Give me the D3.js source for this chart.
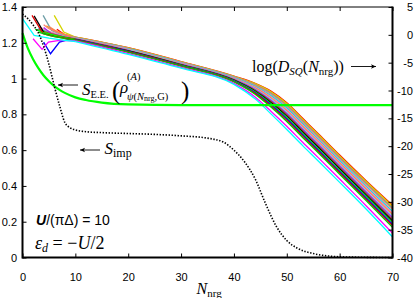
<!DOCTYPE html>
<html>
<head>
<meta charset="utf-8">
<script src="https://cdn.jsdelivr.net/npm/d3@7"></script>
<style>
body{margin:0;background:#fff;}
svg text{font-family:"Liberation Sans",Arial,sans-serif;}
svg .math{font-family:"Liberation Serif","Times New Roman",serif;}
</style>
</head>
<body>
<div id="chart"></div>
<script>
// x ticks and axis ticks
var xTicks = [0,10,20,30,40,50,60,70];
var leftTicks = [0,0.2,0.4,0.6,0.8,1,1.2,1.4];
var rightTicks = [5,0,-5,-10,-15,-20,-25,-30,-35,-40];

// S_imp (dotted, left axis)
var simpN = [0,1,2,3,4,5,6,7,8,9,10,12,15,20,25,30,35,38,40,42,44,46,48,50,52,55,58,60,65,70];
var simpV = [1.36,1.335,1.30,1.255,1.18,1.08,0.96,0.85,0.755,0.725,0.713,0.703,0.698,0.693,0.688,0.68,0.667,0.645,0.60,0.535,0.44,0.30,0.175,0.095,0.052,0.022,0.008,0.004,0.001,0.0];

// S_E.E. (green, left axis)
var seeN = [0,1,2,3,4,5,6,7,8,10,12,15,20,30,70];
var seeV = [1.254,1.17,1.108,1.058,1.017,0.985,0.958,0.937,0.92,0.895,0.88,0.866,0.856,0.852,0.852];

// log D_SQ lines (right axis)
var logDColors = ["#ff0000","#d4d400","#ffa500","#6f9fa8","#fa8072","#00e5ee","#ff82ab","#ff7f50","#87ceeb","#a020f0","#a0522d","#000000","#00ff00","#0000ff","#e00000","#00c800","#ff00ff","#00ffff"];
var logDHeadN = [[6.5,8],[6,7.8],[4.5,6,8],[3.9,5.5,7],[4,5,7],[3,5,8],[3,5,8],[5,6.5,8],[2.5,5,8],[4,5.5,7.5],[3,5,8],[2.2,4.1,6,8],[2.4,4,7],[4,5.3,7,8.5],[1.8,3.9,6,8],[3,5,8],[2,3.7,4.9,7],[0,2.2,5,8]];
var logDHeadV = [[1.0,0.0],[3.5,0.5],[1.6,0.8,0.1],[3.5,0.8,0.2],[1.8,1.1,0.3],[1.2,0.5,-0.2],[1.5,0.6,-0.3],[1.5,0.6,0.0],[1.0,0.2,-0.4],[1.3,0.2,-0.3],[1.0,0.3,-0.4],[3.4,0.3,-0.2,-0.5],[1.0,0.4,-0.3],[-1.3,-3.4,-1.3,-0.9],[3.5,0.2,-0.3,-0.6],[0.5,-0.1,-0.7],[-0.7,-2.6,-1.3,-1.0],[2.9,-0.1,-0.6,-1.0]];
var nGrid = [10,20,30,40,44,47,50,53,56,60,65,70];
var logDTailV = [
  [-0.4,-2.3,-4.8,-7.4,-8.7,-10.1,-12.2,-15.0,-17.8,-21.6,-26.2,-30.6],
  [-0.42,-2.34,-4.84,-7.45,-8.78,-10.22,-12.34,-15.15,-17.95,-21.75,-26.35,-30.77],
  [-0.46,-2.38,-4.88,-7.51,-8.9,-10.39,-12.54,-15.34,-18.14,-21.94,-26.56,-31.0],
  [-0.48,-2.42,-4.92,-7.55,-8.98,-10.51,-12.68,-15.49,-18.29,-22.09,-26.71,-31.17],
  [-0.51,-2.47,-4.97,-7.61,-9.09,-10.67,-12.87,-15.69,-18.49,-22.29,-26.91,-31.4],
  [-0.56,-2.54,-5.04,-7.7,-9.26,-10.92,-13.16,-15.98,-18.78,-22.58,-27.22,-31.74],
  [-0.6,-2.6,-5.1,-7.78,-9.4,-11.13,-13.4,-16.23,-19.03,-22.83,-27.48,-32.03],
  [-0.64,-2.66,-5.16,-7.85,-9.54,-11.33,-13.64,-16.47,-19.27,-23.07,-27.73,-32.31],
  [-0.68,-2.72,-5.22,-7.93,-9.68,-11.54,-13.88,-16.72,-19.52,-23.32,-27.99,-32.6],
  [-0.72,-2.78,-5.28,-8.0,-9.82,-11.74,-14.12,-16.96,-19.76,-23.56,-28.24,-32.88],
  [-0.76,-2.84,-5.34,-8.08,-9.96,-11.95,-14.36,-17.21,-20.01,-23.81,-28.5,-33.17],
  [-0.8,-2.9,-5.4,-8.15,-10.1,-12.15,-14.6,-17.45,-20.25,-24.05,-28.75,-33.45],
  [-0.84,-2.96,-5.46,-8.23,-10.24,-12.36,-14.84,-17.7,-20.5,-24.3,-29.01,-33.74],
  [-0.88,-3.02,-5.52,-8.3,-10.38,-12.56,-15.08,-17.94,-20.74,-24.54,-29.26,-34.02],
  [-0.92,-3.08,-5.58,-8.38,-10.52,-12.77,-15.32,-18.19,-20.99,-24.79,-29.52,-34.31],
  [-0.96,-3.14,-5.64,-8.45,-10.66,-12.97,-15.56,-18.43,-21.23,-25.03,-29.77,-34.59],
  [-1.1,-3.36,-5.86,-8.72,-11.16,-13.71,-16.42,-19.31,-22.11,-25.91,-30.69,-35.62],
  [-1.2,-3.5,-6.0,-8.9,-11.5,-14.2,-17.0,-19.9,-22.7,-26.5,-31.3,-36.3]
];

var width = 415, height = 298;
var x = d3.scaleLinear().domain([0,70]).range([22.5,392.5]);
var yLeft = d3.scaleLinear().domain([0,1.4]).range([257.5,7]);
var yRight = d3.scaleLinear().domain([-40,5]).range([257.5,7]);

var svg = d3.select("#chart").append("svg")
  .attr("width", width)
  .attr("height", height);

// --- colored log D lines
var lineR = d3.line().x(function(d){return x(d[0]);}).y(function(d){return yRight(d[1]);});
var lineRSmooth = d3.line().x(function(d){return x(d[0]);}).y(function(d){return yRight(d[1]);}).curve(d3.curveMonotoneX);

var gLines = svg.append("g");
logDColors.forEach(function(col, i){
  var head = logDHeadN[i].map(function(n, j){return [n, logDHeadV[i][j]];});
  var tail = nGrid.map(function(n, j){return [n, logDTailV[i][j]];});
  gLines.append("path")
    .attr("d", lineR(head.concat([tail[0]])))
    .attr("fill","none").attr("stroke",col).attr("stroke-width",1.3);
  gLines.append("path")
    .attr("d", lineRSmooth(tail))
    .attr("fill","none").attr("stroke",col).attr("stroke-width",1.3);
});

// --- S_E.E. green
var lineL = d3.line().x(function(d){return x(d[0]);}).y(function(d){return yLeft(d[1]);}).curve(d3.curveMonotoneX);
svg.append("path")
  .attr("d", lineL(seeN.map(function(n,i){return [n, seeV[i]];})))
  .attr("fill","none").attr("stroke","#00ff00").attr("stroke-width",2.2);

// --- S_imp dotted
svg.append("path")
  .attr("d", lineL(simpN.map(function(n,i){return [n, simpV[i]];})))
  .attr("fill","none").attr("stroke","#000").attr("stroke-width",1.6)
  .attr("stroke-dasharray","1.4,1.6");

// --- axes
var axB = d3.axisBottom(x).tickValues(xTicks).tickSizeInner(-4).tickSizeOuter(0).tickPadding(15.5);
var axT = d3.axisTop(x).tickValues(xTicks).tickSizeInner(-4).tickSizeOuter(0).tickFormat("");
var axL = d3.axisLeft(yLeft).tickValues(leftTicks).tickSizeInner(-4).tickSizeOuter(0).tickPadding(5.5).tickFormat(d3.format("~g"));
var axR = d3.axisRight(yRight).tickValues(rightTicks).tickSizeInner(-4).tickSizeOuter(0).tickFormat(function(d){return String(d);});

function styleAxis(g){
  g.select(".domain").remove();
  g.selectAll("text").attr("font-family","Liberation Sans, Arial, sans-serif").attr("font-size",11).attr("fill","#000");
  g.selectAll("line").attr("stroke","#000");
}
svg.append("g").attr("transform","translate(0,257.5)").call(axB).call(styleAxis);
svg.append("g").attr("transform","translate(0,7)").call(axT).call(styleAxis);
svg.append("g").attr("transform","translate(22.5,0)").call(axL).call(styleAxis);
var gR = svg.append("g").attr("transform","translate(392.5,0)").call(axR).call(styleAxis);
gR.selectAll("text").attr("x",20.5).attr("text-anchor","end");

// frame
svg.append("line").attr("x1",22.5).attr("x2",392.5).attr("y1",7).attr("y2",7).attr("stroke","#000").attr("stroke-width",1);
svg.append("line").attr("x1",22.5).attr("x2",392.5).attr("y1",257.5).attr("y2",257.5).attr("stroke","#000").attr("stroke-width",2);
svg.append("line").attr("x1",22.5).attr("x2",22.5).attr("y1",6.5).attr("y2",258.5).attr("stroke","#000").attr("stroke-width",2);
svg.append("line").attr("x1",392.5).attr("x2",392.5).attr("y1",6.5).attr("y2",258.5).attr("stroke","#000").attr("stroke-width",2);

// --- arrows
function arrow(x1, y1, x2, y2){
  // head at (x2,y2)
  var dir = x2 > x1 ? 1 : -1;
  svg.append("line").attr("x1",x1).attr("y1",y1).attr("x2",x2).attr("y2",y2)
    .attr("stroke","#000").attr("stroke-width",0.9);
  svg.append("path")
    .attr("d","M"+x2+","+y2+" L"+(x2-dir*5)+","+(y2-2.3)+" L"+(x2-dir*3.8)+","+y2+" L"+(x2-dir*5)+","+(y2+2.3)+"Z")
    .attr("fill","#000");
}
arrow(351, 66.5, 376, 66.5);
arrow(78, 85, 58, 85);
arrow(100, 150, 80, 150);

// --- labels
var tLog = svg.append("text").attr("class","math").attr("x",252).attr("y",71.5).attr("font-size",16);
tLog.append("tspan").text("log(");
tLog.append("tspan").attr("font-style","italic").text("D");
tLog.append("tspan").attr("font-style","italic").attr("font-size",11).attr("dy",3).text("SQ");
tLog.append("tspan").attr("dy",-3).text("(");
tLog.append("tspan").attr("font-style","italic").text("N");
tLog.append("tspan").attr("font-size",11).attr("dy",3).text("nrg");
tLog.append("tspan").attr("dy",-3).text("))");

var tSee = svg.append("text").attr("class","math").attr("x",82).attr("y",95).attr("font-size",17);
tSee.append("tspan").attr("font-style","italic").text("S");
tSee.append("tspan").attr("font-size",10.5).attr("dy",3).text("E.E.");
svg.append("text").attr("class","math").attr("x",112).attr("y",98.5).attr("font-size",25).text("(");
svg.append("text").attr("class","math").attr("x",181).attr("y",98.5).attr("font-size",25).text(")");
svg.append("text").attr("class","math").attr("x",120).attr("y",92.5).attr("font-size",17).attr("font-style","italic").text("ρ");
svg.append("text").attr("class","math").attr("x",127).attr("y",80).attr("font-size",10.5).text("(")
  .append("tspan").attr("font-style","italic").text("A").select(function(){return this.parentNode;})
  .append("tspan").text(")");
var tSub = svg.append("text").attr("class","math").attr("x",127).attr("y",99.5).attr("font-size",10.5);
tSub.append("tspan").attr("font-style","italic").text("ψ");
tSub.append("tspan").text("(");
tSub.append("tspan").attr("font-style","italic").text("N");
tSub.append("tspan").attr("font-size",8).attr("dy",1.5).text("nrg");
tSub.append("tspan").attr("dy",-1.5).text(",G)");

var tImp = svg.append("text").attr("class","math").attr("x",104.5).attr("y",154).attr("font-size",17);
tImp.append("tspan").attr("font-style","italic").text("S");
tImp.append("tspan").attr("font-size",12).attr("dy",3).text("imp");

var tU = svg.append("text").attr("x",36).attr("y",225).attr("font-size",14);
tU.append("tspan").attr("font-weight","bold").attr("font-style","italic").text("U");
tU.append("tspan").text("/(πΔ) = 10");

var tEps = svg.append("text").attr("class","math").attr("x",35).attr("y",249).attr("font-size",18);
tEps.append("tspan").attr("font-style","italic").text("ε");
tEps.append("tspan").attr("font-style","italic").attr("font-size",12).attr("dy",3).text("d");
tEps.append("tspan").attr("dy",-3).text(" = −");
tEps.append("tspan").attr("font-style","italic").text("U");
tEps.append("tspan").text("/2");

var tX = svg.append("text").attr("class","math").attr("x",196.5).attr("y",294).attr("font-size",16);
tX.append("tspan").attr("font-style","italic").text("N");
tX.append("tspan").attr("font-size",11).attr("dy",2.5).text("nrg");
</script>
</body>
</html>
